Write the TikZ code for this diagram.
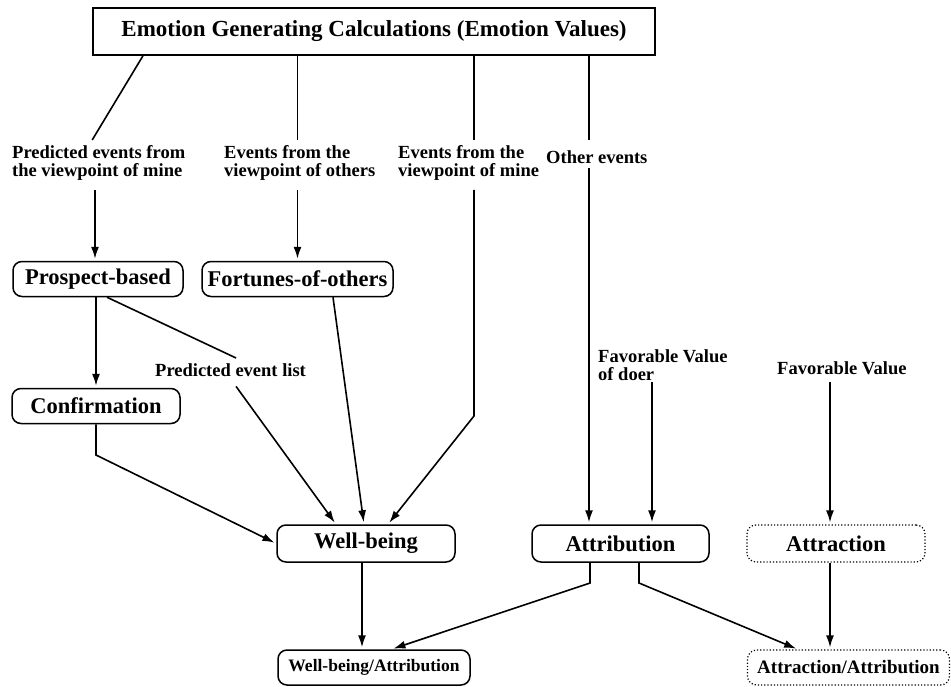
\documentclass[tikz,border=0pt]{standalone}
\usepackage{fontspec}
\setmainfont{Liberation Serif}
\usepackage{tikz}
\usetikzlibrary{arrows.meta, calc}

\begin{document}
\begin{tikzpicture}[
  x=1pt, y=-1pt,
  topbox/.style={rectangle, draw, line width=1.5pt, inner sep=0pt,
                 minimum width=562pt, minimum height=47pt,
                 font=\fontsize{23}{26}\selectfont\bfseries},
  box/.style={rectangle, rounded corners=9pt, draw, line width=1.5pt, inner sep=0pt,
              minimum height=35pt, font=\fontsize{22.5}{25}\selectfont\bfseries},
  dotbox/.style={box, line width=1.2pt, dotted},
  pairbox/.style={box, font=\fontsize{17.5}{20}\selectfont\bfseries},
  note/.style={inner sep=0pt, align=left, anchor=north west,
               font=\fontsize{18.5}{18}\selectfont\bfseries},
  arrow/.style={-{Latex[length=12pt, width=8pt]}, line width=1.6pt, shorten >=2pt},
  link/.style={line width=1.6pt}
]
\useasboundingbox (0,0) rectangle (951,686);

\node[topbox] (calc) at (374,31.5) {Emotion Generating Calculations (Emotion Values)};

\node[note] (lblPE) at (12,145) {Predicted events from\\the viewpoint of mine};
\node[note] (lblEO) at (224,145) {Events from the\\viewpoint of others};
\node[note] (lblEM) at (398,145) {Events from the\\viewpoint of mine};
\node[note] (lblOE) at (546,150) {Other events};

\node[box, minimum width=170pt] (prospect) at (98,279) {Prospect-based};
\node[box, minimum width=191pt] (fortunes) at (297.5,279) {Fortunes-of-others};
\node[box, minimum width=168pt] (confirm) at (96,406) {Confirmation};
\node[note] (lblPEL) at (155,363) {Predicted event list};
\node[note] (lblFVD) at (598,349) {Favorable Value\\of doer};
\node[note] (lblFV) at (777,361) {Favorable Value};

\node[box, minimum width=178pt, minimum height=37pt] (wellbeing) at (366,543.5) {Well-being};
\node[box, minimum width=177pt, minimum height=37pt] (attribution) at (620.5,543.5) {Attribution};
\node[dotbox, minimum width=178pt, minimum height=37pt] (attraction) at (836,543.5) {Attraction};
\node[pairbox, minimum width=192pt] (wbattr) at (374,667.5) {Well-being/Attribution};
\node[pairbox, line width=1.2pt, dotted, minimum width=202pt,
      font=\fontsize{19}{21}\selectfont\bfseries] (atattr) at (848.5,667.5) {Attraction/Attribution};

\coordinate (emBend) at (474,416);
\coordinate (confBend) at (96,455);
\coordinate (atLeft) at (590,583);
\coordinate (atRight) at (639,583);

% from the top box
\draw[link] ([xshift=-231pt]calc.south) -- ($(lblPE.north)+(-6.5,-5)$);
\draw[link] (calc.south -| fortunes.north) -- ($(lblEO.north -| fortunes.north)+(0,-5)$);
\draw[link] (calc.south -| emBend) -- ($(lblEM.north -| emBend)+(0,-5)$);
\draw[link] ($(calc.south -| attribution.north)+(-31.5,0)$) -- ($(lblOE.north -| attribution.north)+(-31.5,-10)$);

% event labels to the boxes
\draw[arrow] ($(lblPE.south -| prospect.north)+(-3,9.5)$) -- ([xshift=-3pt]prospect.north);
\draw[arrow] ($(lblEO.south -| fortunes.north)+(0,9.5)$) -- (fortunes.north);
\draw[arrow] ($(lblEM.south -| emBend)+(0,9.5)$) -- (emBend) -- ([xshift=22pt]wellbeing.north);
\draw[arrow] ($(lblOE.south -| attribution.north)+(-31.5,5)$) -- ([xshift=-31.5pt]attribution.north);

% prospect side
\draw[arrow] (confirm.north |- prospect.south) -- (confirm.north);
\draw[link] ([xshift=9pt]prospect.south) -- ($(lblPEL.north)+(5.5,-5)$);
\draw[arrow] ($(lblPEL.south)+(5.5,10)$) -- ([xshift=-30pt]wellbeing.north);
\draw[arrow] ([xshift=35.5pt]fortunes.south) -- ([xshift=-2pt]wellbeing.north);
\draw[arrow] (confirm.south) -- (confBend) -- (wellbeing.west);

% favorable values
\draw[arrow] ($(lblFVD.south -| attribution.north)+(31.5,2)$) -- ([xshift=31.5pt]attribution.north);
\draw[arrow] ($(lblFV.south -| attraction.north)+(-6,7)$) -- ([xshift=-6pt]attraction.north);

% bottom row
\draw[arrow] ($(wellbeing.south)+(-4,0)$) -- ($(wbattr.north -| wellbeing.south)+(-4,0)$);
\draw[arrow] (attribution.south -| atLeft) -- (atLeft) -- ([xshift=17.5pt]wbattr.north);
\draw[arrow] (attribution.south -| atRight) -- (atRight) -- ([xshift=-50.5pt]atattr.north);
\draw[arrow] ($(attraction.south)+(-6,0)$) -- ($(atattr.north -| attraction.south)+(-6,0)$);
\end{tikzpicture}
\end{document}
